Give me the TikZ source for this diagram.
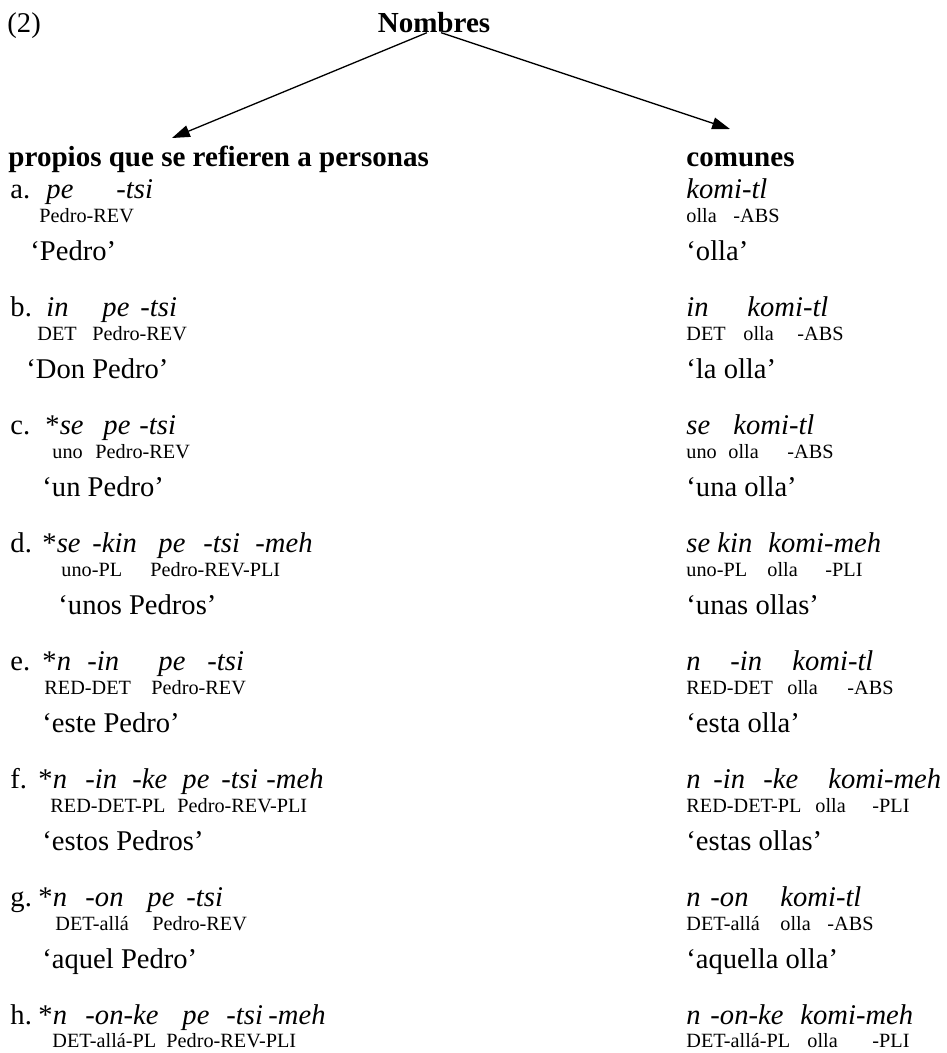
\documentclass[tikz,border=0pt]{standalone}
\usepackage{fontspec}
\setmainfont{Liberation Serif}
\usetikzlibrary{arrows.meta}

\tikzset{
  lab/.style={anchor=base west, inner sep=0pt, font=\fontsize{12}{14}\selectfont},
  word/.style={lab, font=\fontsize{12}{14}\selectfont\itshape},
  gloss/.style={anchor=base west, inner sep=0pt, font=\fontsize{8.5}{10}\selectfont},
  head/.style={anchor=base west, inner sep=0pt, font=\fontsize{12.2}{14}\selectfont\bfseries},
  branch/.style={-{Triangle[length=7.5pt,width=5pt]}, line width=0.55pt},
}

\begin{document}
\begin{tikzpicture}[x=0.42pt, y=-0.42pt]
  \useasboundingbox (0,0) rectangle (947,1053);
  % title and the two branches
  \node[lab] (num) at (7,32) {(2)};
  \node[head, anchor=base] (root) at (434,32) {Nombres};
  \node[head] (prop) at (8,166) {propios que se refieren a personas};
  \node[head] (com) at (686,166) {comunes};
  \coordinate (ltip) at (172,138);
  \coordinate (rtip) at (730,129);
  \draw[branch] ([xshift=-3pt,yshift=-0.3pt]root.base) -- (ltip);
  \draw[branch] ([xshift=3pt,yshift=-0.3pt]root.base) -- (rtip);

  % a.
  \node[lab] (la) at (10,198) {a.};
  \foreach \x/\w [count=\i] in {46/pe, 116/-tsi} \node[word] (la\i) at (\x,198) {\w};
  \foreach \x/\w [count=\i] in {39/Pedro-REV} \node[gloss] (ga\i) at (\x,222) {\w};
  \node[lab] (ta) at (30,260) {‘Pedro’};
  \node[word] (ra1) at (686,198) {komi-tl};
  \foreach \x/\w [count=\i] in {686/olla, 733/-ABS} \node[gloss] (rga\i) at (\x,222) {\w};
  \node[lab] (rta) at (686,260) {‘olla’};

  % b.
  \node[lab] (lb) at (10,316) {b.};
  \foreach \x/\w [count=\i] in {46/in, 102/pe, 140/-tsi} \node[word] (lb\i) at (\x,316) {\w};
  \foreach \x/\w [count=\i] in {37/DET, 92/Pedro-REV} \node[gloss] (gb\i) at (\x,340) {\w};
  \node[lab] (tb) at (26,378) {‘Don Pedro’};
  \foreach \x/\w [count=\i] in {686/in, 747/komi-tl} \node[word] (rb\i) at (\x,316) {\w};
  \foreach \x/\w [count=\i] in {686/DET, 743/olla, 797/-ABS} \node[gloss] (rgb\i) at (\x,340) {\w};
  \node[lab] (rtb) at (686,378) {‘la olla’};

  % c.
  \node[lab] (lc) at (10,434) {c.};
  \foreach \x/\w [count=\i] in {45/{{\upshape*}se}, 103/pe, 139/-tsi} \node[word] (lc\i) at (\x,434) {\w};
  \foreach \x/\w [count=\i] in {52/uno, 95/Pedro-REV} \node[gloss] (gc\i) at (\x,458) {\w};
  \node[lab] (tc) at (42,496) {‘un Pedro’};
  \foreach \x/\w [count=\i] in {686/se, 733/komi-tl} \node[word] (rc\i) at (\x,434) {\w};
  \foreach \x/\w [count=\i] in {686/uno, 728/olla, 787/-ABS} \node[gloss] (rgc\i) at (\x,458) {\w};
  \node[lab] (rtc) at (686,496) {‘una olla’};

  % d.
  \node[lab] (ld) at (10,552) {d.};
  \foreach \x/\w [count=\i] in {42/{{\upshape*}se}, 92/-kin, 158/pe, 203/-tsi, 255/-meh} \node[word] (ld\i) at (\x,552) {\w};
  \foreach \x/\w [count=\i] in {61/uno-PL, 150/Pedro-REV-PLI} \node[gloss] (gd\i) at (\x,576) {\w};
  \node[lab] (td) at (58,614) {‘unos Pedros’};
  \foreach \x/\w [count=\i] in {686/se kin, 768/komi-meh} \node[word] (rd\i) at (\x,552) {\w};
  \foreach \x/\w [count=\i] in {686/uno-PL, 767/olla, 825/-PLI} \node[gloss] (rgd\i) at (\x,576) {\w};
  \node[lab] (rtd) at (686,614) {‘unas ollas’};

  % e.
  \node[lab] (le) at (10,670) {e.};
  \foreach \x/\w [count=\i] in {42/{{\upshape*}n}, 87/-in, 158/pe, 207/-tsi} \node[word] (le\i) at (\x,670) {\w};
  \foreach \x/\w [count=\i] in {44/RED-DET, 151/Pedro-REV} \node[gloss] (ge\i) at (\x,694) {\w};
  \node[lab] (te) at (42,732) {‘este Pedro’};
  \foreach \x/\w [count=\i] in {686/n, 730/-in, 792/komi-tl} \node[word] (re\i) at (\x,670) {\w};
  \foreach \x/\w [count=\i] in {686/RED-DET, 787/olla, 847/-ABS} \node[gloss] (rge\i) at (\x,694) {\w};
  \node[lab] (rte) at (686,732) {‘esta olla’};

  % f.
  \node[lab] (lf) at (10,788) {f.};
  \foreach \x/\w [count=\i] in {38/{{\upshape*}n}, 85/-in, 132/-ke, 182/pe, 221/-tsi, 266/-meh} \node[word] (lf\i) at (\x,788) {\w};
  \foreach \x/\w [count=\i] in {50/RED-DET-PL, 177/Pedro-REV-PLI} \node[gloss] (gf\i) at (\x,812) {\w};
  \node[lab] (tf) at (42,850) {‘estos Pedros’};
  \foreach \x/\w [count=\i] in {686/n, 713/-in, 763/-ke, 828/komi-meh} \node[word] (rf\i) at (\x,788) {\w};
  \foreach \x/\w [count=\i] in {686/RED-DET-PL, 815/olla, 872/-PLI} \node[gloss] (rgf\i) at (\x,812) {\w};
  \node[lab] (rtf) at (686,850) {‘estas ollas’};

  % g.
  \node[lab] (lg) at (10,906) {g.};
  \foreach \x/\w [count=\i] in {38/{{\upshape*}n}, 85/-on, 147/pe, 186/-tsi} \node[word] (lg\i) at (\x,906) {\w};
  \foreach \x/\w [count=\i] in {55/DET-allá, 152/Pedro-REV} \node[gloss] (gg\i) at (\x,930) {\w};
  \node[lab] (tg) at (42,968) {‘aquel Pedro’};
  \foreach \x/\w [count=\i] in {686/n, 710/-on, 780/komi-tl} \node[word] (rg\i) at (\x,906) {\w};
  \foreach \x/\w [count=\i] in {686/DET-allá, 780/olla, 827/-ABS} \node[gloss] (rgg\i) at (\x,930) {\w};
  \node[lab] (rtg) at (686,968) {‘aquella olla’};

  % h.
  \node[lab] (lh) at (10,1024) {h.};
  \foreach \x/\w [count=\i] in {38/{{\upshape*}n}, 85/-on-ke, 182/pe, 226/-tsi, 268/-meh} \node[word] (lh\i) at (\x,1024) {\w};
  \foreach \x/\w [count=\i] in {52/DET-allá-PL, 166/Pedro-REV-PLI} \node[gloss] (gh\i) at (\x,1047) {\w};
  \foreach \x/\w [count=\i] in {686/n, 710/-on-ke, 800/komi-meh} \node[word] (rh\i) at (\x,1024) {\w};
  \foreach \x/\w [count=\i] in {686/DET-allá-PL, 807/olla, 872/-PLI} \node[gloss] (rgh\i) at (\x,1047) {\w};
\end{tikzpicture}
\end{document}
